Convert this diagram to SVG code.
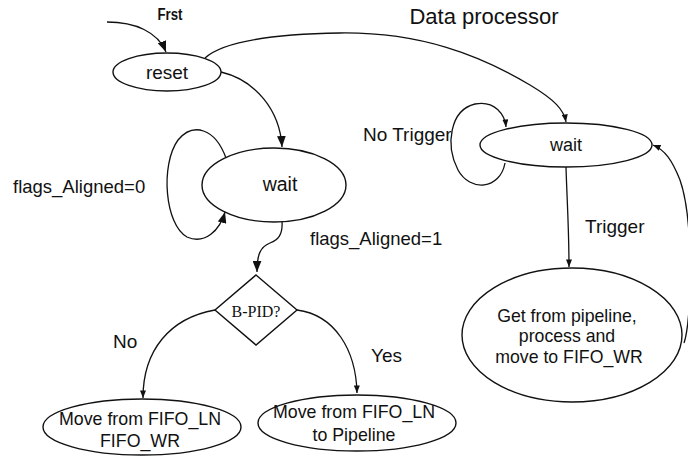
<svg xmlns="http://www.w3.org/2000/svg" width="688" height="457" viewBox="0 0 688 457">
<style>
.node{fill:#fff;stroke:#111;stroke-width:1.4}
.edge{fill:none;stroke:#111;stroke-width:1.3}
.big{marker-end:url(#ahBig)}
.small{marker-end:url(#ahSmall)}
text{font-family:"Liberation Sans",Arial,sans-serif;fill:#111}
.c{text-anchor:middle}
</style>
<defs>
<marker id="ahBig" viewBox="0 0 10 8" refX="10" refY="4" markerWidth="11" markerHeight="9" markerUnits="userSpaceOnUse" orient="auto">
<path d="M0,0 L10,4 L0,8 z" fill="#111"/>
</marker>
<marker id="ahSmall" viewBox="0 0 10 8" refX="10" refY="4" markerWidth="8" markerHeight="6" markerUnits="userSpaceOnUse" orient="auto">
<path d="M0,0 L10,4 L0,8 z" fill="#111"/>
</marker>
</defs>
<rect width="688" height="457" fill="#fff"/>

<g id="connectors">
<path class="edge big" d="M107,22 C135,22 158,32 166,52"/>
<path class="edge big" d="M221,72 C255,80 280,110 282,147"/>
<path class="edge small" d="M205,58 C225,40 280,34 340,33 C420,32 480,55 530,85 C555,100 564,110 566,122"/>
<path class="edge big" d="M226,158 C215,128 193,122 178,140 C160,165 165,225 187,237 C205,245 220,230 225,212"/>
<path class="edge big" d="M282,221 C283,235 278,240 270,243 C260,247 257,255 257,272"/>
<path class="edge small" d="M215,310 C170,318 143,350 143,398"/>
<path class="edge small" d="M297,310 C335,315 356,350 357,393"/>
<path class="edge small" d="M505,163 C500,190 470,192 458,170 C445,145 450,110 475,104 C495,100 505,115 506,127"/>
<path class="edge small" d="M566,167 C567,200 569,230 569,267"/>
<path class="edge small" d="M684,343 C692,320 694,220 680,180 C672,160 665,150 653,145"/>
</g>

<g id="label-frst"><text x="170" y="20" class="c" font-size="16" font-weight="bold" textLength="25" lengthAdjust="spacingAndGlyphs">Frst</text></g>
<g id="label-dataproc"><text x="484" y="24" class="c" font-size="22">Data processor</text></g>
<g id="label-flags0"><text x="13" y="193" font-size="18.5">flags_Aligned=0</text></g>
<g id="label-flags1"><text x="310" y="245" font-size="18.5">flags_Aligned=1</text></g>
<g id="label-no"><text x="113" y="348" font-size="19">No</text></g>
<g id="label-yes"><text x="371" y="362" font-size="19">Yes</text></g>
<g id="label-notrigger"><text x="363" y="141" font-size="19">No Trigger</text></g>
<g id="label-trigger"><text x="585" y="233" font-size="19">Trigger</text></g>

<g id="reset">
<ellipse class="node" cx="167" cy="72" rx="54" ry="19"/>
<text x="167" y="79" class="c" font-size="19">reset</text>
</g>
<g id="wait-left">
<ellipse class="node" cx="274" cy="185" rx="72" ry="37"/>
<text x="280" y="191" class="c" font-size="19.5">wait</text>
</g>
<g id="bpid">
<polygon class="node" points="256,275 297,310 256,345 215,310"/>
<text x="256" y="317" class="c" font-size="16" style="font-family:'Liberation Serif','Times New Roman',serif">B-PID?</text>
</g>
<g id="move-fifo-wr">
<ellipse class="node" cx="142" cy="427" rx="99" ry="28"/>
<text x="140" y="425" class="c" font-size="17.8">Move from FIFO_LN</text>
<text x="140" y="447" class="c" font-size="17.8">FIFO_WR</text>
</g>
<g id="move-pipeline">
<ellipse class="node" cx="357" cy="423" rx="99" ry="28"/>
<text x="354" y="418" class="c" font-size="17.8">Move from FIFO_LN</text>
<text x="354" y="441" class="c" font-size="17.8">to Pipeline</text>
</g>
<g id="wait-right">
<ellipse class="node" cx="566" cy="145" rx="86" ry="22"/>
<text x="566" y="151" class="c" font-size="18">wait</text>
</g>
<g id="get-process">
<ellipse class="node" cx="572" cy="335" rx="110" ry="67"/>
<text x="567" y="322" class="c" font-size="17.7">Get from pipeline,</text>
<text x="567" y="342" class="c" font-size="17.7">process and</text>
<text x="569" y="363" class="c" font-size="17.7">move to FIFO_WR</text>
</g>
</svg>
